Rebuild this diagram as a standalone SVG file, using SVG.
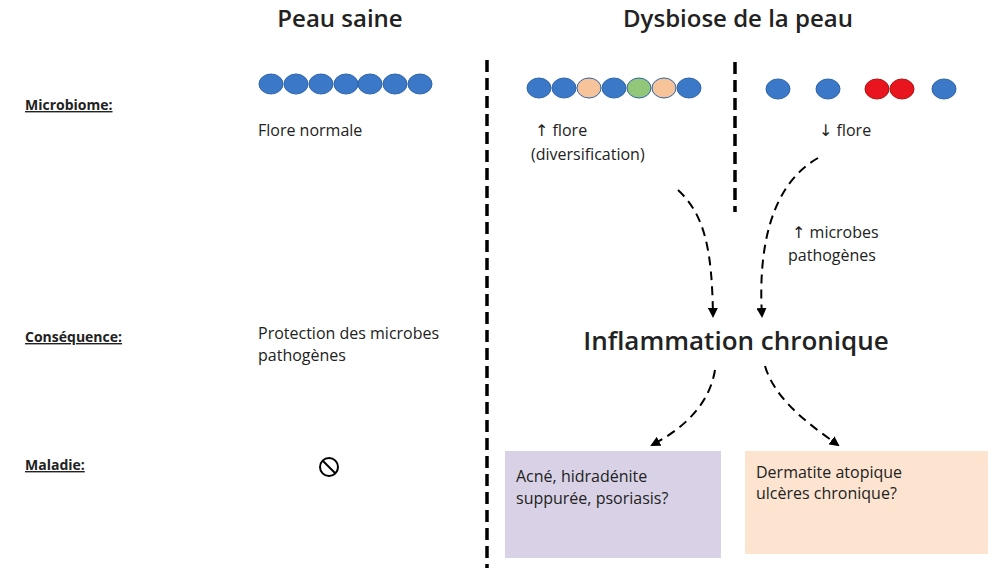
<svg xmlns="http://www.w3.org/2000/svg" width="1004" height="578" viewBox="0 0 1004 578">
<defs>
<marker id="ah" markerWidth="10" markerHeight="10" refX="8" refY="5" orient="auto" markerUnits="userSpaceOnUse"><path d="M0,0 L10,5 L0,10 Z" fill="#000"/></marker>
<style>
text{font-family:"Open Sans","DejaVu Sans",sans-serif;fill:#222}
.h{font-size:24px;font-weight:600}
.l{font-size:14px;font-weight:700;text-decoration:underline}
.t{font-size:16px}
.b{stroke:#2e64a6;stroke-width:1;fill:#3b78c8}
.p{stroke:#2e64a6;stroke-width:1;fill:#f7c39b}
.g{stroke:#2e64a6;stroke-width:1;fill:#92c77a}
.r{stroke:#b01010;stroke-width:1;fill:#e8141e}
.c{fill:none;stroke:#000;stroke-width:2;stroke-dasharray:9,6;marker-end:url(#ah)}
.sep{stroke:#000;stroke-width:3.5;stroke-dasharray:12,6}
</style>
</defs>
<rect width="1004" height="578" fill="#fff"/>
<text class="h" x="340" y="27" text-anchor="middle">Peau saine</text>
<text class="h" x="738" y="27" text-anchor="middle">Dysbiose de la peau</text>
<text class="l" x="25" y="110">Microbiome:</text>
<text class="l" x="25" y="342">Conséquence:</text>
<text class="l" x="25" y="470">Maladie:</text>
<line class="sep" x1="487" y1="60" x2="487" y2="568"/>
<line class="sep" x1="735" y1="62" x2="735" y2="212"/>
<g id="healthy">
<ellipse class="b" cx="271" cy="84" rx="12" ry="10"/><ellipse class="b" cx="296" cy="84" rx="12" ry="10"/><ellipse class="b" cx="321" cy="84" rx="12" ry="10"/><ellipse class="b" cx="346" cy="84" rx="12" ry="10"/><ellipse class="b" cx="370" cy="84" rx="12" ry="10"/><ellipse class="b" cx="395" cy="84" rx="12" ry="10"/><ellipse class="b" cx="420" cy="84" rx="12" ry="10"/>
<text class="t" x="258" y="136">Flore normale</text>
</g>
<g id="diverse">
<ellipse class="b" cx="539" cy="88" rx="12" ry="10"/><ellipse class="b" cx="564" cy="88" rx="12" ry="10"/><ellipse class="p" cx="589" cy="88" rx="12" ry="10"/><ellipse class="b" cx="614" cy="88" rx="12" ry="10"/><ellipse class="g" cx="639" cy="88" rx="12" ry="10"/><ellipse class="p" cx="664" cy="88" rx="12" ry="10"/><ellipse class="b" cx="689" cy="88" rx="12" ry="10"/>
<text class="t" x="535" y="136">↑ flore</text>
<text class="t" x="531" y="160">(diversification)</text>
</g>
<g id="reduced">
<ellipse class="b" cx="778" cy="89" rx="12" ry="10"/><ellipse class="b" cx="828" cy="89" rx="12" ry="10"/><ellipse class="r" cx="877" cy="89" rx="12" ry="10"/><ellipse class="r" cx="902" cy="89" rx="12" ry="10"/><ellipse class="b" cx="944" cy="89" rx="12" ry="10"/>
<text class="t" x="819" y="136">↓ flore</text>
<text class="t" x="792" y="238">↑ microbes</text>
<text class="t" x="788" y="261">pathogènes</text>
</g>
<g id="protection">
<text class="t" x="258" y="339">Protection des microbes</text>
<text class="t" x="258" y="361">pathogènes</text>
<g transform="translate(329,467)"><circle r="9" fill="none" stroke="#000" stroke-width="2"/><line x1="-6" y1="-6" x2="6" y2="6" stroke="#000" stroke-width="2"/></g>
</g>
<g id="inflammation"><text x="736" y="350" text-anchor="middle" style="font-size:26px;font-weight:600">Inflammation chronique</text></g>
<g id="box1"><rect x="505" y="451" width="216" height="107" fill="#d9d2e6"/>
<text class="t" x="516" y="482">Acné, hidradénite</text><text class="t" x="516" y="504">suppurée, psoriasis?</text></g>
<g id="box2"><rect x="745" y="451" width="243" height="103" fill="#fce4d0"/>
<text class="t" x="756" y="478">Dermatite atopique</text><text class="t" x="756" y="499">ulcères chronique?</text></g>
<g id="connectors">
<path class="c" d="M678,190 C705,215 712,250 713,316"/>
<path class="c" d="M818,158 C770,185 758,250 762,316"/>
<path class="c" d="M715,370 C710,400 690,425 652,445"/>
<path class="c" d="M765,366 C775,400 810,425 838,445"/>
</g>
</svg>
